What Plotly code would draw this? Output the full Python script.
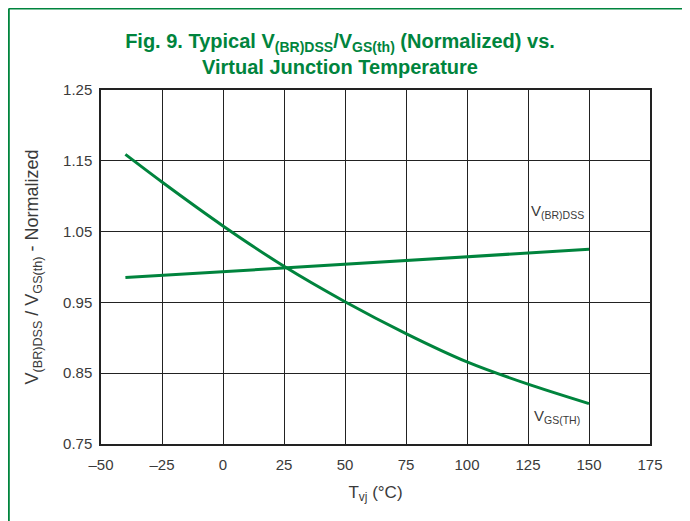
import plotly.graph_objects as go

# Data
temp_gs = [-40, -25, 0, 25, 50, 75, 100, 125, 150]
vgs_th = [1.159, 1.120, 1.058, 1.001, 0.951, 0.906, 0.866, 0.8345, 0.807]
temp_br = [-40, 150]
vbr_dss = [0.985, 1.025]
x_ticks = [-50, -25, 0, 25, 50, 75, 100, 125, 150, 175]
x_tick_labels = ["–50", "–25", "0", "25", "50", "75", "100", "125", "150", "175"]
y_ticks = [0.75, 0.85, 0.95, 1.05, 1.15, 1.25]
y_tick_labels = ["0.75", "0.85", "0.95", "1.05", "1.15", "1.25"]

GREEN = "#00843D"
TXT = "#3a3a3a"
FONT = "Liberation Sans Narrow, Arial Narrow, Liberation Sans, Arial, sans-serif"

# plot area in figure px (page has 8px body offset)
L, T, PW, PH = 93, 82, 549, 354
W, H = 690, 521

fig = go.Figure()
fig.add_trace(go.Scatter(x=temp_br, y=vbr_dss, mode="lines",
                         line=dict(color=GREEN, width=3), showlegend=False))
fig.add_trace(go.Scatter(x=temp_gs, y=vgs_th, mode="lines",
                         line=dict(color=GREEN, width=3, shape="spline", smoothing=0.8),
                         showlegend=False))

fig.add_annotation(x=137, y=1.078, text="V<sub>(BR)DSS</sub>", showarrow=False,
                   font=dict(family="Liberation Sans, Arial, sans-serif", size=15, color=TXT))
fig.add_annotation(x=137, y=0.7886, text="V<sub>GS(TH)</sub>", showarrow=False,
                   font=dict(family="Liberation Sans, Arial, sans-serif", size=15, color=TXT))

# green frame (top and left)
px0 = (0.8 - L) / PW
py_top = (T + PH - 0.5) / PH
fig.add_shape(type="line", xref="paper", yref="paper", x0=px0, x1=(W - L) / PW, y0=py_top, y1=py_top,
              line=dict(color=GREEN, width=2))
fig.add_shape(type="line", xref="paper", yref="paper", x0=px0, x1=px0, y0=-(H - T - PH) / PH, y1=py_top,
              line=dict(color=GREEN, width=2))

fig.update_layout(
    width=W, height=H,
    margin=dict(l=L, r=W - L - PW, t=T, b=H - T - PH, autoexpand=False),
    paper_bgcolor="white", plot_bgcolor="white",
    title=dict(text="Fig. 9. Typical V<sub>(BR)DSS</sub>/V<sub>GS(th)</sub> (Normalized) vs.<br>Virtual Junction Temperature",
               x=(340 - 8) / W, xanchor="center", y=1 - (48 - 8) / H, yanchor="middle",
               font=dict(family=FONT, size=20, color=GREEN, weight="bold")),
    font=dict(family="Liberation Sans, Arial, sans-serif", color=TXT, size=14),
)
fig.update_xaxes(range=[-50, 175], tickvals=x_ticks, ticktext=x_tick_labels,
                 showgrid=True, gridcolor="#222", gridwidth=1,
                 showline=True, linecolor="#222", linewidth=1.5, mirror=True,
                 ticks="", zeroline=False, ticklabelstandoff=6,
                 tickfont=dict(size=15, color=TXT),
                 title=dict(text="T<sub>vj</sub> (°C)", font=dict(size=17, color=TXT), standoff=14))
fig.update_yaxes(range=[0.75, 1.25], tickvals=y_ticks, ticktext=y_tick_labels,
                 showgrid=True, gridcolor="#222", gridwidth=1,
                 showline=True, linecolor="#222", linewidth=1.5, mirror=True,
                 ticks="", zeroline=False, ticklabelstandoff=4,
                 tickfont=dict(size=15, color=TXT),
                 title=dict(text="V<sub>(BR)DSS</sub> / V<sub>GS(th)</sub> - Normalized",
                            font=dict(size=18, color=TXT), standoff=20))

fig.write_html("out.html")
